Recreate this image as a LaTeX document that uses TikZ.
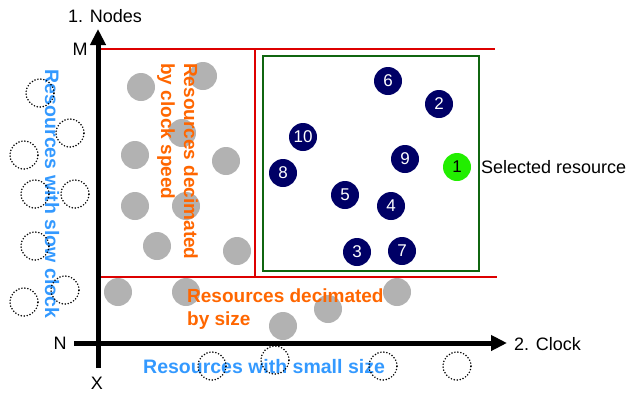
\documentclass[tikz,border=0pt]{standalone}
\usepackage{fontspec}
\setmainfont{Liberation Sans}
\usetikzlibrary{arrows.meta}
\definecolor{navy}{RGB}{0,0,102}
\definecolor{lime}{RGB}{34,238,0}
\definecolor{grayres}{RGB}{178,178,178}
\definecolor{skyblue}{RGB}{51,153,255}
\definecolor{decorange}{RGB}{255,102,0}
\definecolor{limitred}{RGB}{221,0,0}
\definecolor{boxgreen}{RGB}{16,102,16}
\tikzset{
  res/.style={circle, minimum size=28pt, inner sep=0pt},
  candidate/.style={res, fill=navy, text=white, font=\fontsize{17}{17}\selectfont},
  chosen/.style={res, fill=lime, text=black, font=\fontsize{17}{17}\selectfont},
  dropped/.style={res, fill=grayres},
  absent/.style={res, draw=black, line width=1.7pt, dash pattern=on 0pt off 3pt, line cap=round},
  axis/.style={line width=5pt, -{Triangle[width=15pt,length=16pt]}},
  limit/.style={draw=limitred, line width=1.5pt},
  plainlbl/.style={font=\fontsize{18}{18}\selectfont, inner sep=0pt},
  bluelbl/.style={font=\bfseries\fontsize{19.5}{20}\selectfont, text=skyblue, inner sep=0pt},
  orangelbl/.style={font=\bfseries\fontsize{19}{23}\selectfont, text=decorange, inner sep=0pt, align=left},
}
\begin{document}
\begin{tikzpicture}[x=1pt,y=-1pt]
\useasboundingbox (0,0) rectangle (629,394);

% limits of the decimation regions
\draw[limit] (97,49) -- (495,49);
\draw[limit] (255,49) -- (255,277);
\draw[limit] (98,277) -- (497,277);
\draw[draw=boxgreen, line width=1.5pt] (263,56) rectangle (479,271);

% resources removed by clock speed and by size
\foreach \n/\x/\y in {a/141/87, b/203/76, c/182/133, d/135/155, e/226/161,
  f/135/206, g/186/206, h/157/246, i/237/251,
  j/118/292, k/186/292, l/397/292, m/328/309, n/283/326}
  \node[dropped] (gray-\n) at (\x,\y) {};

% region labels
\node[bluelbl, rotate=-90] (slowclock) at (52,194) {Resources with slow clock};
\node[orangelbl, rotate=-90, anchor=north west] (byclock) at (198,63) {Resources decimated\\by clock speed};
\node[orangelbl, anchor=west] (bysize) at (187,309) {Resources decimated\\by size};
\node[bluelbl, anchor=west] (smallsize) at (143,367) {Resources with small size};

% resources that never qualified
\foreach \n/\x/\y in {a/40/93, b/70/133, c/24/155, d/35/194, e/75/194,
  f/35/246, g/65/290, h/24/302,
  i/212/366, j/275/360, k/383/366, l/457/366}
  \node[absent] (dot-\n) at (\x,\y) {};

% remaining candidates
\node[candidate] (r6) at (388,81) {6};
\node[candidate] (r2) at (439,104) {2};
\node[candidate] (r10) at (303,137) {10};
\node[candidate] (r9) at (405,159) {9};
\node[candidate] (r8) at (283,173) {8};
\node[candidate] (r5) at (345,195) {5};
\node[candidate] (r4) at (391,206) {4};
\node[candidate] (r3) at (357,252) {3};
\node[candidate] (r7) at (402,251) {7};
\node[chosen] (r1) at (457,167) {1};
\node[plainlbl, anchor=west] (sellbl) at (481,167) {Selected resource};

% axes
\coordinate (origin-v) at (98,368);
\coordinate (top-v) at (98,29);
\coordinate (origin-h) at (74,343);
\coordinate (end-h) at (507,343);
\draw[axis] (origin-v) -- (top-v);
\draw[axis] (origin-h) -- (end-h);
\node[plainlbl] (nodeslbl) at (105,16) {1. Nodes};
\node[plainlbl] (mlbl) at (80,49) {M};
\node[plainlbl] (nlbl) at (60,343) {N};
\node[plainlbl] (xlbl) at (97,383) {X};
\node[plainlbl, anchor=west] (clocklbl) at (514,344) {2. Clock};
\end{tikzpicture}
\end{document}
